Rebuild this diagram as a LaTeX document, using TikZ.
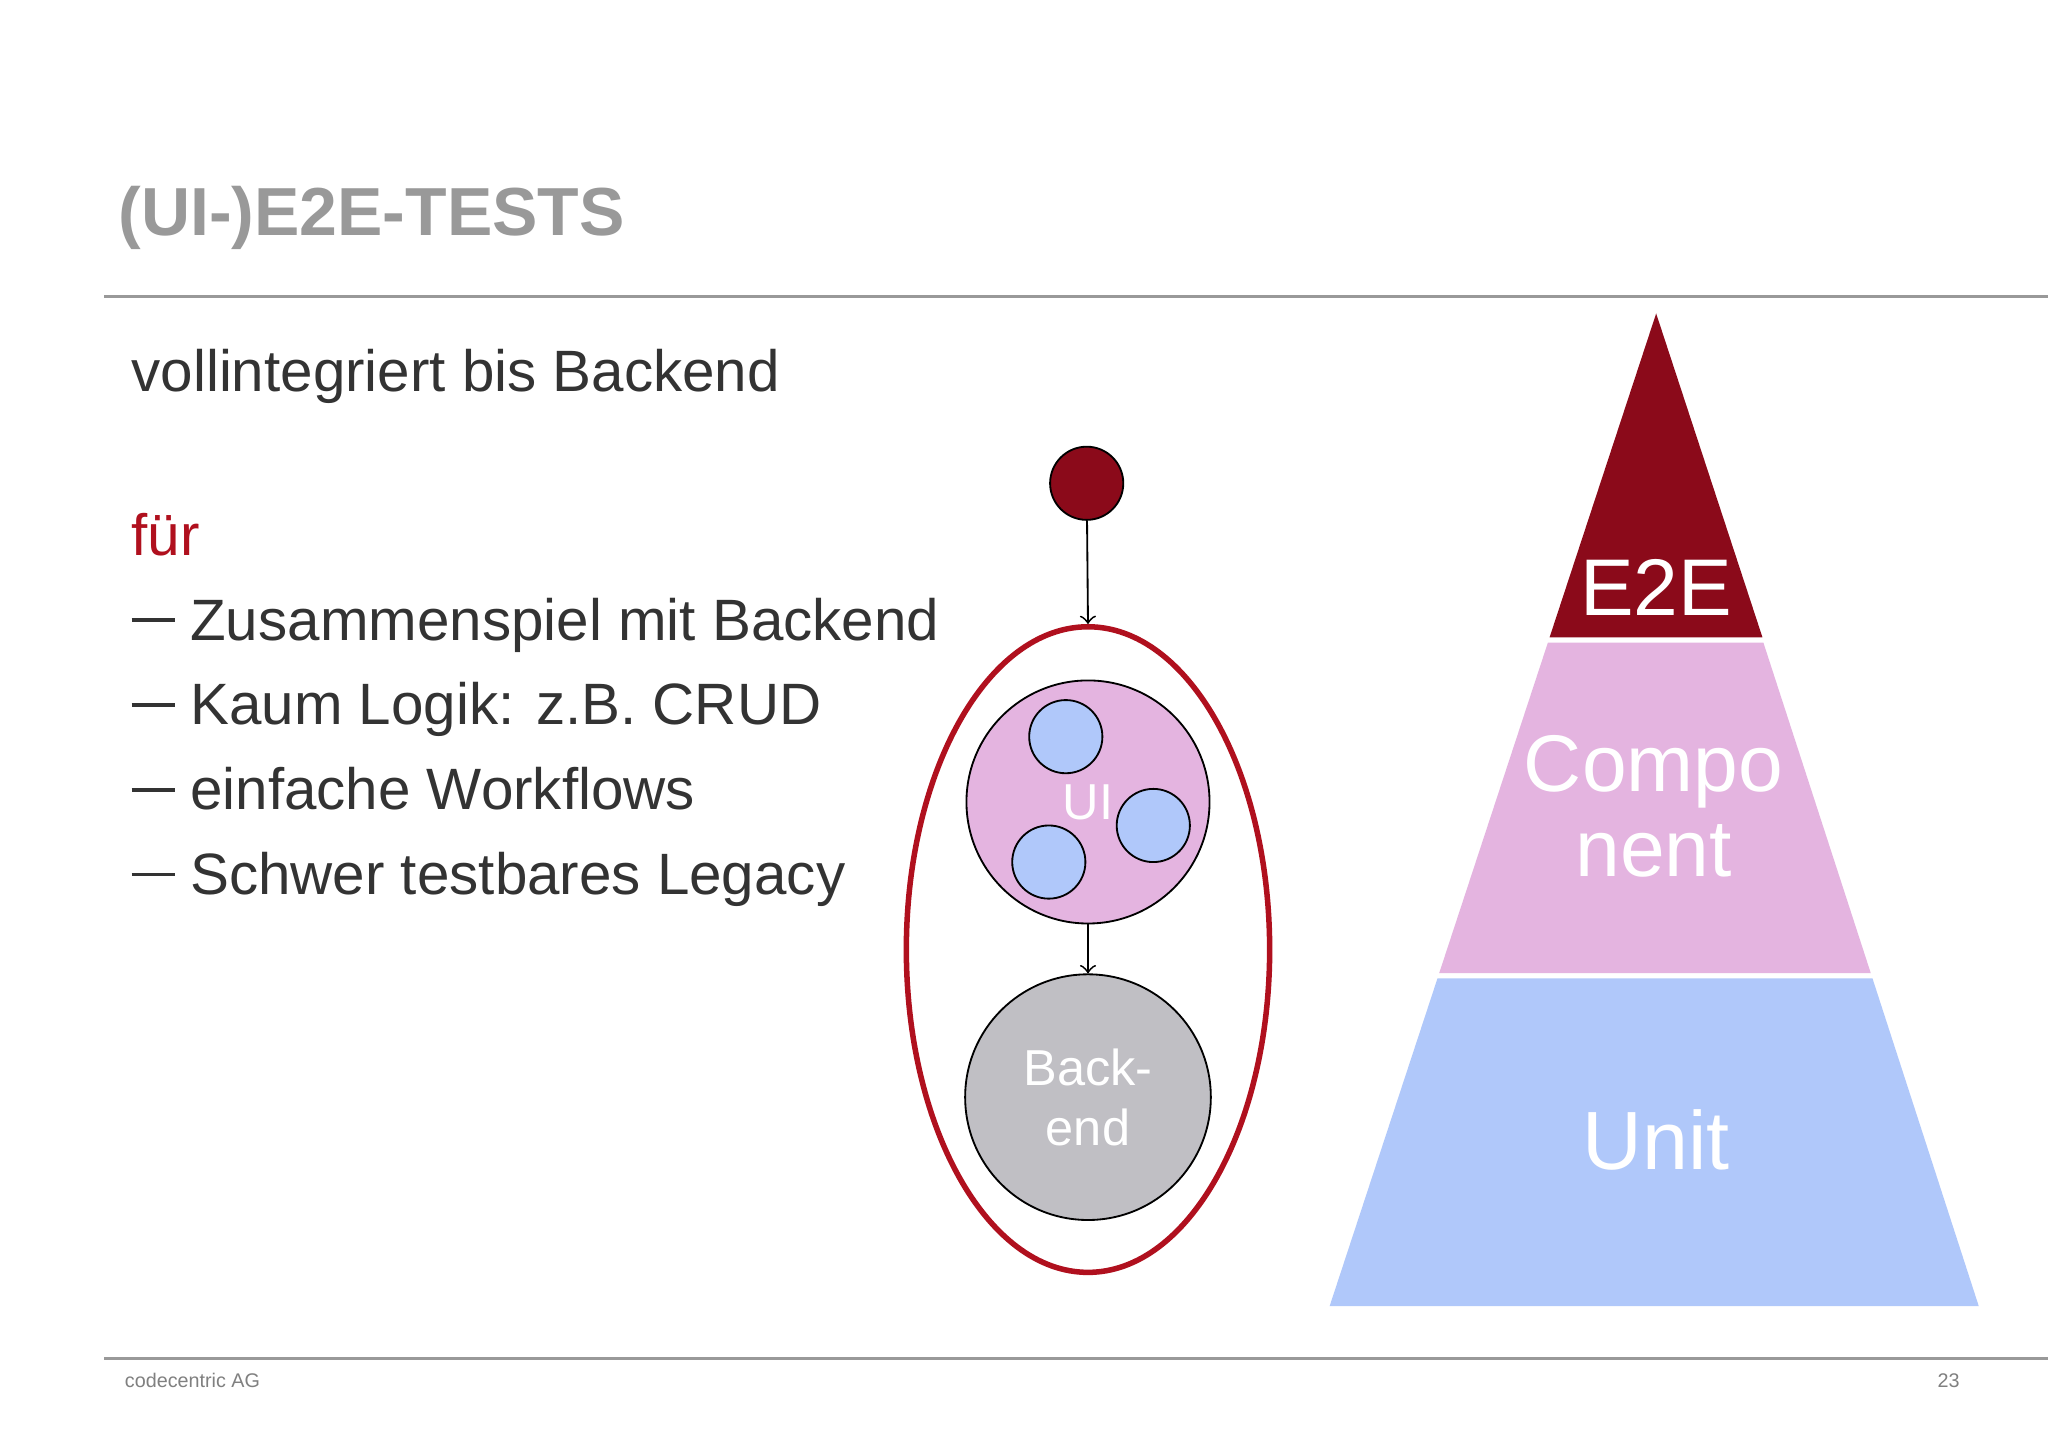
\documentclass[tikz,border=0pt]{standalone}
\usepackage{fontspec}
\usetikzlibrary{shapes.geometric}
\setmainfont{Liberation Sans}
\definecolor{dred}{HTML}{8B0A1A}
\definecolor{ered}{HTML}{B0101E}
\definecolor{pinkc}{HTML}{E4B4E0}
\definecolor{bluec}{HTML}{B0C8FA}
\definecolor{grayc}{HTML}{C0BFC4}
\definecolor{txt}{HTML}{333333}
\newcommand{\bdash}{\rule[0.14cm]{0.33cm}{0.028cm}\hspace{0.12cm}}
\begin{document}
\begin{tikzpicture}[x=0.01cm,y=-0.01cm,
  body/.style={anchor=base west,font=\fontsize{12.7}{15}\selectfont,text=txt,inner sep=0},
  small/.style={draw=black,line width=0.4pt,fill=bluec,circle,minimum size=0.56cm,inner sep=0},
  lbl/.style={text=white,font=\fontsize{17.5}{18}\selectfont}]
\useasboundingbox[fill=white] (0,0) rectangle (1568,1108);
\node[anchor=base west,inner sep=0,text=gray!80,font=\fontsize{14.8}{18}\selectfont\bfseries] (title) at (90,180) {(UI-)E2E-TESTS};
\draw[gray!80,line width=0.5pt] (80,227) -- (1568,227);
\draw[gray!80,line width=0.5pt] (80,1040) -- (1568,1040);
\node[anchor=base west,inner sep=0,text=gray,font=\fontsize{4.3}{5}\selectfont] (foot) at (95,1062) {codecentric AG};
\node[anchor=base east,inner sep=0,text=gray,font=\fontsize{4.3}{5}\selectfont] (page) at (1501,1062) {23};
\node[body,font=\fontsize{12.7}{14}\selectfont] (t1) at (100,300) {vollintegriert bis Backend};
\node[body,text=ered] (t2) at (100,425) {für};
\node[body] (b1) at (100,490) {\bdash Zusammenspiel mit Backend};
\node[body] (b2) at (100,555) {\bdash Kaum Logik: z.B. CRUD};
\node[body] (b3) at (100,620) {\bdash einfache Workflows};
\node[body] (b4) at (100,685) {\bdash Schwer testbares Legacy};
% diagram
\node[circle,draw=black,line width=0.4pt,fill=dred,minimum size=0.56cm,inner sep=0] (dot) at (832,370) {};
\node[ellipse,draw=ered,line width=1.2pt,minimum width=2.78cm,minimum height=4.94cm,inner sep=0] (ell) at (833,727) {};
\node[circle,draw=black,line width=0.4pt,fill=pinkc,minimum size=1.86cm,inner sep=0,text=white,font=\fontsize{11}{12}\selectfont] (ui) at (833,614) {UI};
\node[small] (s1) at (816,564) {};
\node[small] (s2) at (883,632) {};
\node[small] (s3) at (803,660) {};
\node[circle,draw=black,line width=0.4pt,fill=grayc,minimum size=1.88cm,inner sep=0,text=white,align=center,font=\fontsize{11}{13}\selectfont] (be) at (833,840) {Back-\\end};
\draw[->,line width=0.4pt] (dot) -- (ell.north);
\draw[->,line width=0.4pt] (ui) -- (be);
% pyramid
\fill[dred] (1268,240) -- (1349.4,488) -- (1186.4,488) -- cycle;
\fill[pinkc] (1185.1,492) -- (1350.1,492) -- (1432.3,745) -- (1101.9,745) -- cycle;
\fill[bluec] (1100.6,749) -- (1433.6,749) -- (1515,1000) -- (1018,1000) -- cycle;
\node[lbl] (e2e) at (1268,450) {E2E};
\node[lbl,align=center,font=\fontsize{17.5}{18.5}\selectfont] (comp) at (1266,617) {Compo\\nent};
\node[lbl,font=\fontsize{18}{19}\selectfont] (unit) at (1268,873) {Unit};
\end{tikzpicture}
\end{document}
